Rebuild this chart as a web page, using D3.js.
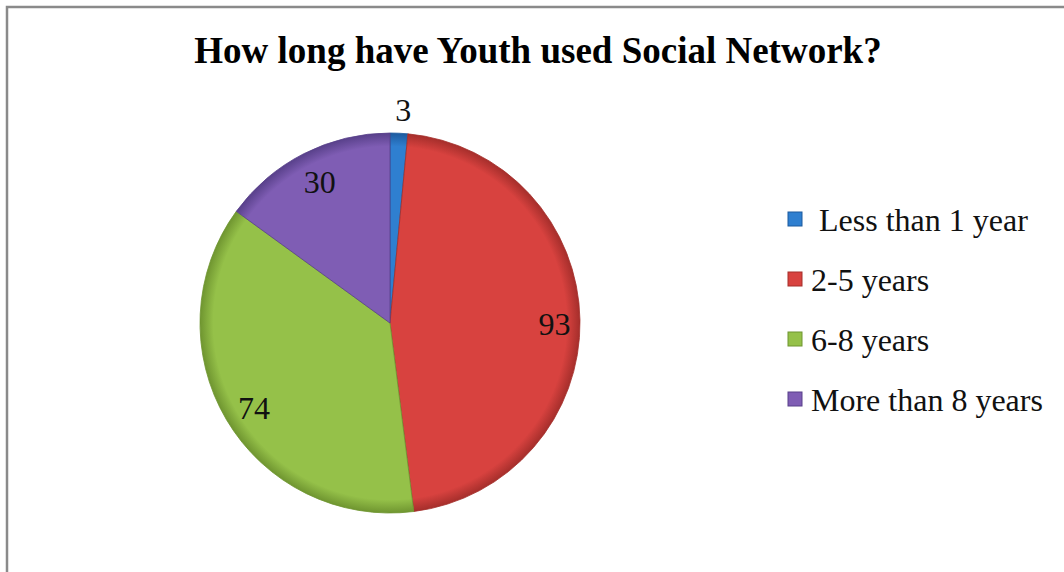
<!DOCTYPE html>
<html>
<head>
<meta charset="utf-8">
<script src="https://cdn.jsdelivr.net/npm/d3@7"></script>
<style>
  body { margin: 0; background: #fff; }
  text { font-family: "Liberation Serif", "Times New Roman", serif; }
</style>
</head>
<body>
<script>
// chart data
let categories = ["Less than 1 year", "2-5 years", "6-8 years", "More than 8 years"];
let values = [3, 93, 74, 30];
let legendLabels = [" Less than 1 year", "2-5 years", "6-8 years", "More than 8 years"];
let colors = ["#2f7fd0", "#d8423f", "#95c149", "#7f5db4"];
let darkColors = ["#1d5a9e", "#a52e2b", "#6f9530", "#58408a"];

let width = 1064, height = 572;
let cx = 390, cy = 323, radius = 190;

let svg = d3.select("body").append("svg")
    .attr("width", width)
    .attr("height", height);

// frame
svg.append("rect")
    .attr("x", 7).attr("y", 7)
    .attr("width", width + 10).attr("height", height + 10)
    .attr("fill", "#fff")
    .attr("stroke", "#8a8a8a")
    .attr("stroke-width", 2.5);

// title
svg.append("text")
    .attr("x", 538).attr("y", 63)
    .attr("text-anchor", "middle")
    .attr("font-size", 37)
    .attr("font-weight", "bold")
    .text("How long have Youth used Social Network?");

// gradients for the bevel look (centred on the pie group origin)
let defs = svg.append("defs");
colors.forEach(function(c, i) {
  let g = defs.append("radialGradient")
      .attr("id", "grad" + i)
      .attr("gradientUnits", "userSpaceOnUse")
      .attr("cx", 0).attr("cy", 0).attr("r", radius);
  g.append("stop").attr("offset", "0%").attr("stop-color", c);
  g.append("stop").attr("offset", "93%").attr("stop-color", c);
  g.append("stop").attr("offset", "100%").attr("stop-color", darkColors[i]);
});

let pie = d3.pie().sort(null).value(function(d) { return d; });
let arc = d3.arc().innerRadius(0).outerRadius(radius);
let arcs = pie(values);

let g = svg.append("g").attr("transform", "translate(" + cx + "," + cy + ")");

g.selectAll("path.slice")
    .data(arcs)
  .enter().append("path")
    .attr("class", "slice")
    .attr("d", arc)
    .attr("fill", function(d, i) { return "url(#grad" + i + ")"; })
    .attr("stroke", function(d, i) { return darkColors[i]; })
    .attr("stroke-width", 0.8);

// data labels: small slice outside, the others inside
let labelArc = d3.arc().innerRadius(radius * 0.85).outerRadius(radius * 0.85);
let outerArc = d3.arc().innerRadius(radius * 1.14).outerRadius(radius * 1.14);
g.selectAll("text.lbl")
    .data(arcs)
  .enter().append("text")
    .attr("class", "lbl")
    .attr("transform", function(d) {
      let p = (d.data < 10 ? outerArc : labelArc).centroid(d);
      return "translate(" + (p[0] + 3) + "," + (p[1] + 3) + ")";
    })
    .attr("text-anchor", "middle")
    .attr("dy", "0.35em")
    .attr("font-size", 32)
    .attr("fill", "#111")
    .text(function(d) { return d.data; });

// legend
let legend = svg.append("g").attr("transform", "translate(788,220)");
let rows = legend.selectAll("g.row")
    .data(categories)
  .enter().append("g")
    .attr("class", "row")
    .attr("transform", function(d, i) { return "translate(0," + (i * 60) + ")"; });

rows.append("rect")
    .attr("x", 0).attr("y", -8)
    .attr("width", 14).attr("height", 14)
    .attr("fill", function(d, i) { return colors[i]; })
    .attr("stroke", function(d, i) { return darkColors[i]; })
    .attr("stroke-width", 1);

rows.append("text")
    .attr("x", 23).attr("y", 0)
    .attr("dy", "0.35em")
    .attr("font-size", 32)
    .attr("fill", "#111")
    .attr("xml:space", "preserve")
    .text(function(d, i) { return legendLabels[i]; });
</script>
</body>
</html>
